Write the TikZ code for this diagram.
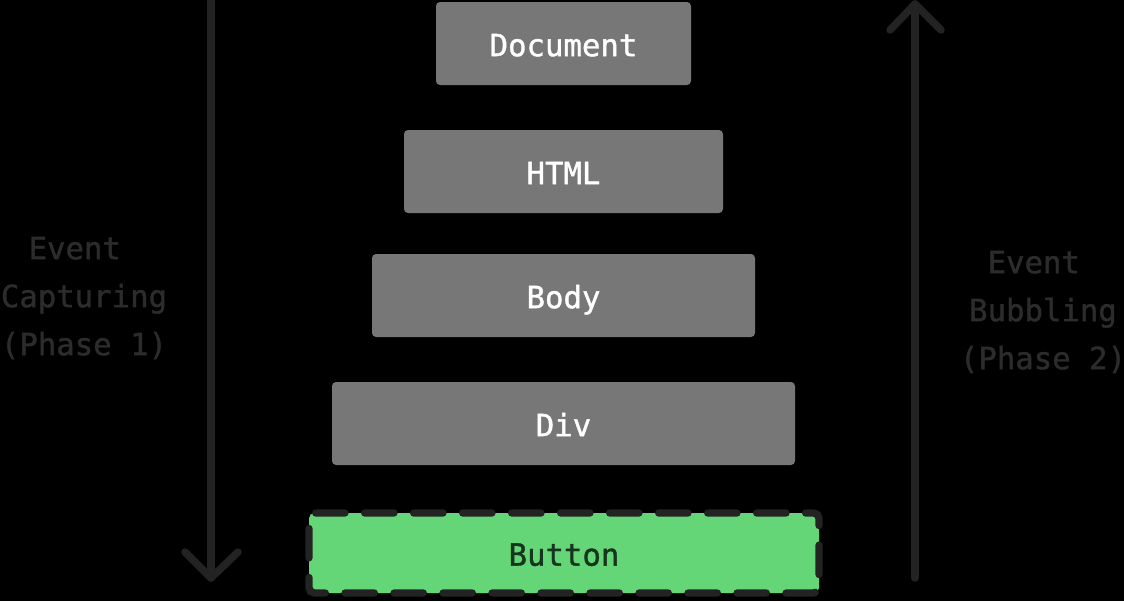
\documentclass[tikz,border=0pt]{standalone}
\usepackage{fontspec}
\setmonofont{DejaVu Sans Mono}
\newfontfamily\labmono[FakeBold=1.2]{DejaVu Sans Mono}
\definecolor{boxgray}{HTML}{777777}
\definecolor{darkline}{HTML}{232323}
\definecolor{labelgray}{HTML}{2C2C2C}
\definecolor{btngreen}{HTML}{65D677}
\definecolor{btntext}{HTML}{17351C}
\begin{document}
\begin{tikzpicture}[x=0.75pt,y=-0.75pt,
  layer/.style={fill=boxgray, rounded corners=3pt, inner sep=0pt, text height=19pt, text depth=0pt, font=\labmono\fontsize{23}{23}\selectfont, text=white},
  btnbox/.style={fill=btngreen, draw=darkline, line width=5.5pt, line cap=round, dash pattern=on 22pt off 14.75pt, dash phase=16pt, rounded corners=4pt, inner sep=0pt, text height=19pt, text depth=0pt, font=\labmono\fontsize{23}{23}\selectfont, text=btntext},
  flow/.style={draw=darkline, line width=5.6pt, line cap=round, line join=round},
  phase/.style={font=\labmono\fontsize{23}{36}\selectfont, text=labelgray, align=center, inner sep=0pt}]
\fill[black] (0,0) rectangle (1124,601);
\useasboundingbox (0,0) rectangle (1124,601);
\node[layer, minimum width=255*0.75pt, minimum height=83*0.75pt] (doc) at (563.5,43.5) {Document};
\node[layer, minimum width=319*0.75pt, minimum height=83*0.75pt] (html) at (563.5,171.5) {HTML};
\node[layer, minimum width=383*0.75pt, minimum height=83*0.75pt] (body) at (563.5,295.5) {Body};
\node[layer, minimum width=463*0.75pt, minimum height=83*0.75pt] (div) at (563.5,423.5) {Div};
\node[btnbox, minimum width=510*0.75pt, minimum height=80*0.75pt] (btn) at (564,553) {Button};
% left arrow
\coordinate (ltop) at (211,-5);
\coordinate (ltip) at (211,578);
\coordinate (lla) at (185,552);
\coordinate (llb) at (238,552);
\draw[flow] (ltop) -- (ltip);
\draw[flow] (lla) -- (ltip) -- (llb);
% right arrow
\coordinate (rbot) at (915,578);
\coordinate (rtip) at (915,4);
\coordinate (rla) at (890,30);
\coordinate (rlb) at (941,30);
\draw[flow] (rbot) -- (rtip);
\draw[flow] (rla) -- (rtip) -- (rlb);
\node[phase] (cap) at (84,298) {Event\hphantom{x}\\Capturing\\(Phase 1)};
\node[phase] (bub) at (1043,312) {Event\hphantom{x}\\Bubbling\\(Phase 2)};
\end{tikzpicture}
\end{document}
